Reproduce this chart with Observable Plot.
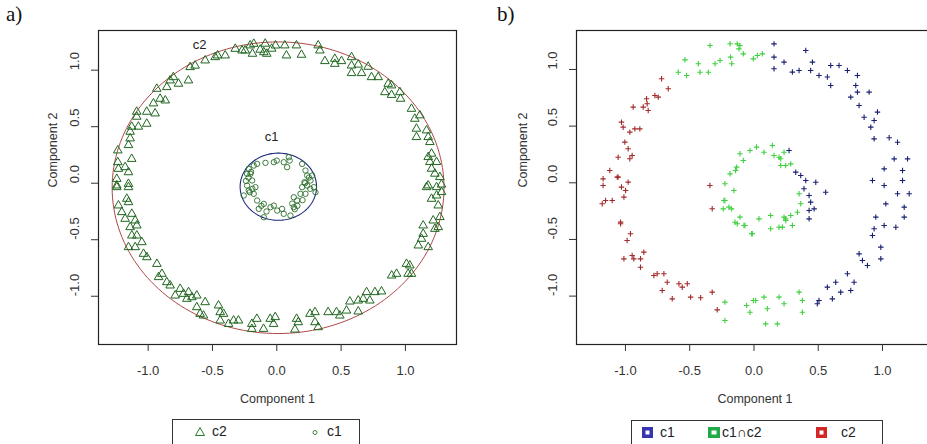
<!DOCTYPE html>
<html><head><meta charset="utf-8">
<script src="https://cdn.jsdelivr.net/npm/d3@7"></script>
<script src="https://cdn.jsdelivr.net/npm/@observablehq/plot@0.6"></script>
<style>
html,body{margin:0;padding:0;background:#fff;overflow:hidden}
#wrap{position:relative;width:927px;height:444px;overflow:hidden;font-family:"Liberation Sans",Arial,sans-serif;color:#222}
.panel{position:absolute;top:0}
.tag{position:absolute;top:0;font-family:"Liberation Serif","DejaVu Serif",serif;font-size:21px;line-height:24px;color:#111}
.legend{position:absolute;border:1px solid #333;height:40px;background:#fff}
.legend span{position:absolute;font-size:14px;line-height:16px;top:3px;color:#222}
.legend svg{position:absolute;left:0;top:0}
</style></head><body><div id="wrap"></div>
<script>
// ---------- data ----------
const tickValues = [-1, -0.5, 0, 0.5, 1];

// panel a) : outer ring (c2, triangles)
const aC2 = [
 [-0.09,1.234],[-0.207,1.219],[-0.246,1.174],[-0.189,1.145],[-0.129,1.181],[-0.078,1.145],[-0.323,1.189],
 [-0.401,1.13],[-0.479,1.115],[-0.557,1.086],[-0.46,1.13],[-0.674,1.027],[-0.635,1.04],[-0.687,0.909],
 [-0.804,0.938],[-0.829,0.909],[-0.764,0.88],[-0.855,0.85],[-0.867,0.732],[-0.907,0.747],[-0.933,0.835],
 [-0.959,0.706],[-1.011,0.632],[-0.946,0.617],[-1.011,0.526],[-1.089,0.632],[-1.089,0.588],[-1.128,0.5],
 [-1.076,0.5],[-1.14,0.455],[-1.14,0.396],[-1.153,0.337],[-1.236,0.29],[-1.128,0.215],[-1.236,0.186],
 [-1.179,0.142],[-1.231,0.127],[-1.153,0.097],[-1.244,0.038],[-1.153,-0.006],[-1.244,-0.02],
 [-0.01,1.218],[-0.101,1.159],[-0.27,1.174],[-0.179,1.233],[-0.04,1.19],
 [0.062,1.219],[0.153,1.219],[0.075,1.13],[0.192,1.136],[0.322,1.219],[0.335,1.174],[0.374,1.08],
 [0.451,1.1],[0.451,1.056],[0.503,1.08],[0.581,1.115],[0.581,1.041],[0.581,0.974],[0.659,0.974],
 [0.633,1.049],[0.71,1.03],[0.736,0.938],[0.788,0.938],[0.866,0.879],[0.892,0.865],[0.84,0.805],
 [0.892,0.781],[0.957,0.805],[0.962,0.747],[1.047,0.658],[1.073,0.57],[1.112,0.6],[1.086,0.482],
 [1.086,0.408],[1.164,0.467],[1.177,0.408],[1.19,0.364],[1.203,0.261],[1.177,0.231],[1.19,0.187],
 [1.242,0.187],[1.203,0.128],[1.229,0.084],[1.268,0.054],[1.177,-0.02],[1.28,-0.012],
 [-1.244,-0.035],[-1.153,-0.035],[-1.166,-0.138],[-1.153,-0.168],[-1.231,-0.197],[-1.205,-0.256],
 [-1.127,-0.271],[-1.179,-0.315],[-1.101,-0.33],[-1.14,-0.389],[-1.088,-0.374],[-1.127,-0.463],
 [-1.088,-0.463],[-1.153,-0.566],[-1.101,-0.566],[-1.049,-0.522],[-1.036,-0.625],[-1.01,-0.655],
 [-0.932,-0.714],[-0.893,-0.802],[-0.919,-0.831],[-0.855,-0.876],[-0.829,-0.905],[-0.79,-0.994],
 [-0.751,-0.935],[-0.725,-0.979],[-0.686,-0.964],[-0.699,-1.023],[-0.66,-1.009],[-0.622,-0.994],
 [-0.557,-1.053],[-0.622,-1.097],[-0.596,-1.156],[-0.57,-1.171],[-0.453,-1.082],[-0.44,-1.141],
 [-0.414,-1.156],[-0.44,-1.215],[-0.375,-1.245],[-0.336,-1.215],[-0.298,-1.215],[-0.194,-1.245],
 [-0.155,-1.2],[-0.194,-1.289],[-0.103,-1.289],[-0.051,-1.2],[-0.025,-1.245],[-0.012,-1.185],
 [1.164,-0.035],[1.242,-0.035],[1.203,-0.138],[1.242,-0.109],[1.281,-0.079],[1.255,-0.197],
 [1.268,-0.3],[1.216,-0.33],[1.138,-0.374],[1.255,-0.389],[1.229,-0.404],[1.138,-0.448],
 [1.125,-0.492],[1.1,-0.551],[1.177,-0.566],[1.008,-0.714],[1.034,-0.728],[1.021,-0.802],
 [1.047,-0.802],[0.893,-0.817],[0.931,-0.802],[0.698,-0.964],[0.763,-0.964],[0.814,-0.958],
 [0.633,-1.038],[0.672,-1.023],[0.723,-1.038],[0.568,-1.047],[0.633,-1.135],[0.542,-1.127],
 [0.464,-1.141],[0.49,-1.171],[0.399,-1.141],[0.297,-1.141],[0.258,-1.156],[0.297,-1.23],
 [0.322,-1.274],[0.154,-1.2],[0.167,-1.23],[0.141,-1.295]
];

// panel a) : inner ring (c1, circles)
const aC1 = [
 [-0.218,0.127],[-0.231,0.083],[-0.179,0.156],[-0.153,0.171],[-0.088,0.18],[-0.023,0.186],[0.054,0.186],
 [0.08,0.142],[0.093,0.23],[0.197,0.171],[0.223,0.112],[0.236,0.068],[0.262,0.024],[0.215,0.009],
 [0.288,-0.035],[0.301,-0.08],[0.197,-0.035],[0.223,-0.094],[0.158,-0.153],[0.132,-0.212],[0.106,-0.286],
 [0.054,-0.271],[0.003,-0.242],[-0.049,-0.212],[-0.101,-0.183],[-0.153,-0.153],[-0.179,-0.094],
 [-0.218,-0.065],[-0.231,-0.021],[-0.257,-0.109],[-0.192,0.024],[-0.101,-0.301],[-0.14,-0.227],
 [-0.023,-0.198],[0.041,-0.227],[0.132,-0.124],[0.184,-0.094],[0.236,-0.021],[0.275,0.068],
 [-0.205,0.083],[-0.166,-0.035],[-0.22,0.05],[-0.2,0.1],[-0.24,0.02],[-0.19,-0.05],[-0.21,-0.08],
 [0.12,-0.18],[0.16,-0.2],[0.2,-0.15],[0.14,-0.23],[0.25,0.05],[0.22,0.0],[0.26,-0.05],
 [-0.12,-0.2],[-0.08,-0.25],[0.0,0.2],[0.1,0.2]
];

// fitted cluster boundaries (centre x, centre y, radius)
const aC2Boundary = {cx: 0.01, cy: -0.04, r: 1.29};
const aC1Boundary = {cx: 0.012, cy: -0.031, r: 0.297};

// panel b) : membership
const bC2 = [
 [-0.719,0.918],[-0.667,0.83],[-0.836,0.742],[-0.771,0.771],[-0.745,0.756],[-0.94,0.668],[-0.862,0.668],
 [-0.823,0.638],[-1.031,0.535],[-1.018,0.491],[-0.927,0.476],[-0.888,0.476],[-0.966,0.447],[-1.005,0.359],
 [-0.979,0.3],[-1.057,0.226],[-0.966,0.212],[-1.122,0.109],[-1.057,0.05],[-1.174,0.035],[-1.174,-0.024],
 [-1.031,-0.038],[-0.979,0.006],[-0.343,-0.024],[-0.831,0.697],[-0.948,0.241],[-1.064,0.05],
 [-1.155,-0.156],[-1.181,-0.185],[-1.103,-0.156],[-1.012,-0.126],[-0.999,-0.068],[-1.038,-0.347],
 [-0.325,-0.229],[-1.038,-0.362],[-0.987,-0.509],[-0.961,-0.45],[-1.012,-0.671],[-0.948,-0.641],
 [-0.935,-0.671],[-0.883,-0.671],[-0.857,-0.612],[-0.883,-0.745],[-0.779,-0.818],[-0.753,-0.803],
 [-0.701,-0.803],[-0.675,-0.877],[-0.714,-0.95],[-0.636,-1.024],[-0.584,-0.891],[-0.558,-0.921],
 [-0.519,-0.891],[-0.493,-1.009],[-0.415,-1.015],[-0.325,-0.965],[-0.286,-1.121]
];
const bBoth = [
 [-0.589,0.976],[-0.524,0.947],[-0.537,1.085],[-0.433,1.05],[-0.42,0.976],[-0.355,0.976],[-0.303,1.05],
 [-0.264,1.079],[-0.342,1.212],[-0.186,1.227],[-0.173,1.05],[-0.109,1.212],[-0.083,1.138],[-0.005,1.094],
 [0.026,1.124],[0.065,1.138],[-0.13,1.226],[-0.117,1.182],[-0.182,1.109],
 [-0.109,0.256],[-0.031,0.285],[-0.083,0.197],[-0.135,0.138],[-0.186,0.079],[-0.226,-0.009],[0.02,0.315],
 [0.078,0.27],[0.143,0.329],[0.156,0.241],[0.208,0.212],[0.234,0.27],[0.208,0.153],[0.286,0.167],
 [0.247,0.153],[0.195,0.226],[-0.143,0.109],[-0.156,-0.068],[-0.234,-0.156],[-0.195,-0.215],
 [-0.226,-0.156],[-0.174,-0.23],[-0.109,-0.303],[-0.07,-0.377],[-0.018,-0.45],[-0.239,-0.23],
 [-0.148,-0.348],[-0.13,-0.362],[-0.078,-0.377],[-0.013,-0.45],[0.13,-0.406],[0.221,-0.391],
 [0.299,-0.377],[0.247,-0.333],[0.247,-0.318],[0.286,-0.289],[0.195,-0.392],[0.13,-0.289],
 [0.039,-0.318],[0.338,-0.26],[0.351,-0.097],[0.364,-0.185],[0.234,-0.303],
 [0.351,-0.965],[0.377,-1.039],[0.377,-1.142],[0.195,-1.009],[0.234,-1.068],[0.182,-1.245],
 [0.091,-1.245],[0.078,-1.009],[0.013,-1.039],[0.104,-1.112],[-0.226,-1.053],[-0.226,-1.215],
 [-0.057,-1.083],[-0.031,-1.142],[-0.005,-1.039]
];
const bC1 = [
 [0.156,1.226],[0.156,1.109],[0.156,1.006],[0.234,1.065],[0.299,0.977],[0.351,0.991],[0.403,1.168],
 [0.441,0.991],[0.455,1.065],[0.506,0.947],[0.571,0.933],[0.597,1.035],[0.662,1.035],[0.597,0.859],
 [0.727,0.991],[0.805,0.947],[0.792,0.859],[0.805,0.8],[0.753,0.756],[0.896,0.8],[0.818,0.682],
 [0.857,0.579],[0.961,0.624],[0.935,0.55],[0.909,0.491],[0.935,0.388],[1.052,0.397],[1.117,0.358],
 [1.091,0.211],[1.195,0.211],[1.013,0.123],[1.156,0.108],[0.922,0.02],[1.156,0.02],[1.013,-0.024],
 [0.273,0.285],[0.325,0.094],[0.364,0.064],[0.403,0.02],[0.481,0.005],[0.389,-0.053],
 [0.429,-0.112],[0.441,-0.171],[0.429,-0.245],[0.429,-0.318],[0.468,-0.23],[0.558,-0.083],
 [1.117,-0.097],[1.208,-0.097],[1.026,-0.186],[1.169,-0.215],[1.169,-0.303],[0.948,-0.303],
 [1.013,-0.377],[1.104,-0.392],[0.935,-0.406],[0.922,-0.465],[0.987,-0.568],[0.987,-0.671],
 [0.818,-0.627],[0.844,-0.686],[0.883,-0.73],[0.727,-0.803],[0.779,-0.877],[0.636,-0.877],
 [0.753,-0.95],[0.571,-0.921],[0.675,-0.965],[0.61,-1.024],[0.506,-1.039],[0.493,-1.068]
];

// ---------- helpers ----------
const fmt = d => d.toFixed(1);
const ring = b => d3.range(0, 361, 2).map(a => [b.cx + b.r * Math.cos(a * Math.PI / 180), b.cy + b.r * Math.sin(a * Math.PI / 180)]);
const ink = "#333";

function frameMarks(yLabelDx, yTitleDx) {
  return [
    Plot.frame({stroke: "#222", strokeWidth: 1.2}),
    Plot.axisX({ticks: tickValues, tickSize: 7, tickPadding: 14, tickFormat: fmt, fontSize: 13, color: ink, label: null}),
    Plot.axisY({ticks: tickValues, tickSize: 7, tickFormat: () => "", color: ink, label: null}),
    Plot.text(tickValues, {y: d => d, text: fmt, frameAnchor: "left", dx: yLabelDx, rotate: -90, fontSize: 13, fill: ink}),
    Plot.text(["Component 1"], {frameAnchor: "bottom", dy: 58, text: d => d, fontSize: 12.5, fill: ink}),
    Plot.text(["Component 2"], {frameAnchor: "left", dx: yTitleDx, rotate: -90, text: d => d, fontSize: 12.5, fill: ink})
  ];
}

const wrap = document.getElementById("wrap");

// ---------- panel a ----------
const plotA = Plot.plot({
  width: 470, height: 444,
  marginLeft: 98, marginRight: 14, marginTop: 30, marginBottom: 100,
  x: {domain: [-1.386, 1.397]},
  y: {domain: [-1.427, 1.351]},
  style: {fontFamily: "'Liberation Sans', Arial, sans-serif", background: "transparent", overflow: "visible"},
  marks: [
    ...frameMarks(-24, -46),
    Plot.line(ring(aC2Boundary), {x: d => d[0], y: d => d[1], stroke: "#b04848", strokeWidth: 1}),
    Plot.line(ring(aC1Boundary), {x: d => d[0], y: d => d[1], stroke: "#1c2a7a", strokeWidth: 1.1}),
    Plot.dot(aC2, {x: d => d[0], y: d => d[1], symbol: "triangle", r: 3.2, stroke: "#1f661f", fill: "none", strokeWidth: 1}),
    Plot.dot(aC1, {x: d => d[0], y: d => d[1], symbol: "circle", r: 2.7, stroke: "#2a6e2a", fill: "none", strokeWidth: 0.9}),
    Plot.text(["c2"], {x: -0.60, y: 1.227, text: d => d, fontSize: 13, fill: "#222"}),
    Plot.text(["c1"], {x: -0.04, y: 0.413, text: d => d, fontSize: 13, fill: "#222"})
  ]
});
plotA.classList.add("panel");
plotA.style.left = "0px";
wrap.appendChild(plotA);

// ---------- panel b ----------
const glyph = (data, color) => Plot.dot(data, {x: d => d[0], y: d => d[1], symbol: "plus", r: 1.9, stroke: color, strokeWidth: 1.1});
const plotB = Plot.plot({
  width: 470, height: 444,
  marginLeft: 106, marginRight: 7, marginTop: 30, marginBottom: 100,
  x: {domain: [-1.381, 1.397]},
  y: {domain: [-1.427, 1.344]},
  style: {fontFamily: "'Liberation Sans', Arial, sans-serif", background: "transparent", overflow: "visible"},
  marks: [
    ...frameMarks(-24, -54),
    glyph(bC2, "#a32a2a"),
    glyph(bBoth, "#3fd03f"),
    glyph(bC1, "#1a1f72")
  ]
});
plotB.classList.add("panel");
plotB.style.left = "470px";
wrap.appendChild(plotB);

// ---------- tags and legends ----------
const tagA = document.createElement("div");
tagA.className = "tag"; tagA.style.left = "6px"; tagA.style.top = "2px"; tagA.textContent = "a)";
wrap.appendChild(tagA);
const tagB = document.createElement("div");
tagB.className = "tag"; tagB.style.left = "497px"; tagB.style.top = "2px"; tagB.textContent = "b)";
wrap.appendChild(tagB);

const legA = document.createElement("div");
legA.className = "legend";
legA.style.left = "172px"; legA.style.top = "419px"; legA.style.width = "186px";
legA.innerHTML = `<svg width="186" height="30">
  <path d="M27,7.5 L31.5,15.5 L22.5,15.5 Z" fill="none" stroke="#2a7a2a" stroke-width="1"/>
  <circle cx="142" cy="12.5" r="2" fill="none" stroke="#2a7a2a" stroke-width="0.9"/>
</svg><span style="left:39px">c2</span><span style="left:154px">c1</span>`;
wrap.appendChild(legA);

const legB = document.createElement("div");
legB.className = "legend";
legB.style.left = "631px"; legB.style.top = "420px"; legB.style.width = "250px";
legB.innerHTML = `<svg width="250" height="30">
  <rect x="10" y="6" width="11" height="11" fill="#3535b0"/><rect x="13.5" y="9.5" width="4" height="4" fill="#fff"/>
  <rect x="76" y="6" width="12" height="11" fill="#22aa48"/><rect x="79.5" y="9.5" width="5" height="4" fill="#fff"/>
  <rect x="184" y="6" width="11" height="11" fill="#d02828"/><rect x="187.5" y="9.5" width="4" height="4" fill="#fff"/>
</svg><span style="left:28px">c1</span><span style="left:90px">c1∩c2</span><span style="left:209px">c2</span>`;
wrap.appendChild(legB);
</script></body></html>
